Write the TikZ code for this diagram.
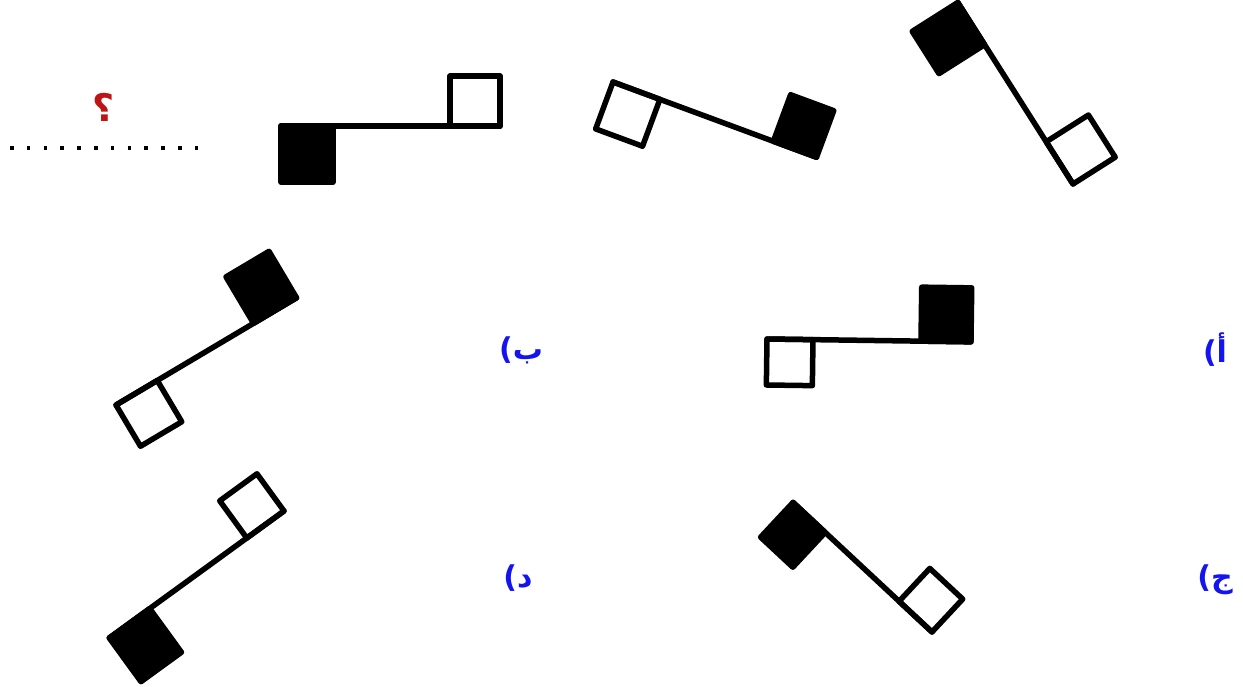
\documentclass[tikz,border=0pt]{standalone}
\usepackage{fontspec}
\newfontfamily\arabicfont[Script=Arabic]{DejaVu Sans}
\newfontfamily\latinfont{DejaVu Sans}
\TeXXeTstate=1
\definecolor{lblblue}{RGB}{20,20,240}
\definecolor{qred}{RGB}{190,20,20}
\tikzset{
  fig/.style={line width=5.5pt, line join=round, line cap=round},
  lbl/.style={text=lblblue, font=\bfseries\fontsize{30}{32}\selectfont, inner sep=0pt},
}
\newcommand{\flagfig}[6]{%
\begin{scope}[shift={(#1,#2)}, rotate=-#3]
  \draw[fig] (0,0) -- (#4,0);
  \draw[fig] (0,0) rectangle (#5,#5);
  \filldraw[fig] (#4-#6,0) rectangle (#4,-#6*1.08);
\end{scope}}
\newcommand{\optlabel}[1]{{\latinfont(}{\arabicfont\beginR #1\endR}}
\begin{document}
\begin{tikzpicture}[x=1pt,y=-1pt]
\useasboundingbox (0,0) rectangle (1243,687);
% question row
\node[text=qred, font=\arabicfont\bfseries\fontsize{38}{40}\selectfont, inner sep=0pt] (q) at (104,107) {؟};
\coordinate (d1) at (10,148);
\coordinate (d2) at (198,148);
\draw[line width=3.5pt, dash pattern=on 3.5pt off 13.3pt] (d1) -- (d2);
% sequence
\flagfig{500}{126}{180}{219}{50}{52}
\flagfig{613}{82}{20.3}{217}{50}{46}
\flagfig{1073}{184}{237.6}{215}{50}{50}
% options
\flagfig{767}{339}{0.8}{204}{46}{50}
\flagfig{116}{405}{-30.7}{210}{48}{50}
\flagfig{932}{632}{223}{190}{45}{44}
\flagfig{284}{511}{144}{216}{46}{50}
% labels
\node[lbl] (la) at (1215,350) {\optlabel{أ}};
\node[lbl] (lb) at (521,350) {\optlabel{ب}};
\node[lbl] (lc) at (1215,580) {\optlabel{ج}};
\node[lbl] (ld) at (518,578) {\optlabel{د}};
\end{tikzpicture}
\end{document}
